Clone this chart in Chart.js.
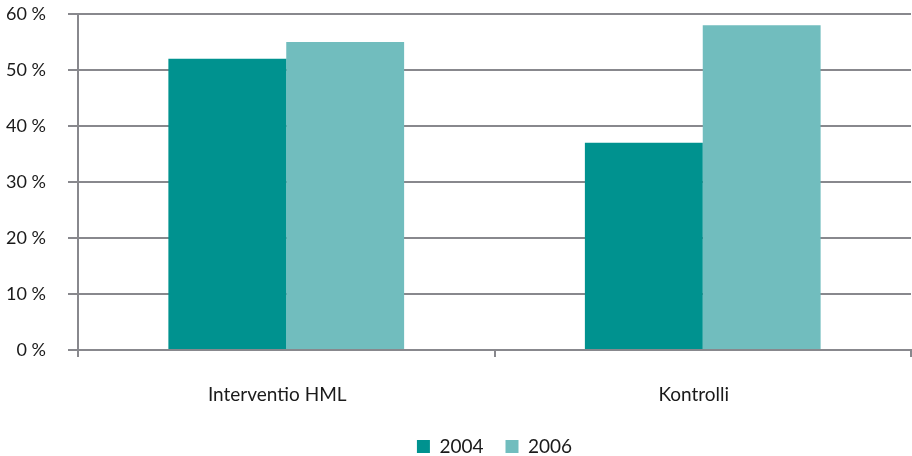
<!DOCTYPE html>
<html>
<head>
<meta charset="utf-8">
<script src="https://cdn.jsdelivr.net/npm/chart.js@4"></script>
<style>
  html, body { margin: 0; padding: 0; background: #fff; }
  #wrap { width: 912px; height: 456px; position: relative; }
</style>
</head>
<body>
<div id="wrap"><canvas id="c" width="912" height="456"></canvas></div>
<script>
const categories = ["Interventio HML", "Kontrolli"];
const values2004 = [52, 37];
const values2006 = [55, 58];
const seriesLabels = ["2004", "2006"];
const yTickMax = 60;
const yTickStep = 10;

const gray = "#88888d";
const fontFamily = "Lato, 'Open Sans', sans-serif";

new Chart(document.getElementById("c"), {
  type: "bar",
  data: {
    labels: categories,
    datasets: [
      { label: seriesLabels[0], data: values2004, backgroundColor: "#00928f", borderWidth: 0 },
      { label: seriesLabels[1], data: values2006, backgroundColor: "#71bdbe", borderWidth: 0 }
    ]
  },
  options: {
    responsive: false,
    animation: false,
    devicePixelRatio: 1,
    layout: { padding: { top: 14, right: 1, left: 0, bottom: 0 } },
    datasets: { bar: { categoryPercentage: 0.566, barPercentage: 1.0 } },
    plugins: {
      tooltip: { enabled: false },
      legend: {
        position: "bottom",
        fullSize: false,
        maxHeight: 41,
        labels: {
          boxWidth: 13,
          boxHeight: 13,
          padding: 22,
          color: "#1a1a1a",
          font: { family: fontFamily, size: 19 }
        }
      }
    },
    scales: {
      x: {
        afterFit: (s) => { s.height = 65; },
        grid: { display: true, drawOnChartArea: false, drawTicks: true, tickLength: 7, color: gray, lineWidth: 2, offset: true },
        border: { display: true, color: gray, width: 2 },
        ticks: { color: "#1a1a1a", padding: 26, labelOffset: -9, font: { family: fontFamily, size: 19 } }
      },
      y: {
        min: 0,
        max: yTickMax,
        afterFit: (s) => { s.width = 78; s.paddingTop = 0; s.paddingBottom = 0; },
        grid: { color: gray, lineWidth: 2, tickLength: 10, drawTicks: true },
        border: { display: true, color: gray, width: 2 },
        ticks: {
          stepSize: yTickStep,
          padding: 22,
          color: "#1a1a1a",
          font: { family: fontFamily, size: 18 },
          callback: (v) => v + " %"
        }
      }
    }
  }
});
</script>
</body>
</html>
